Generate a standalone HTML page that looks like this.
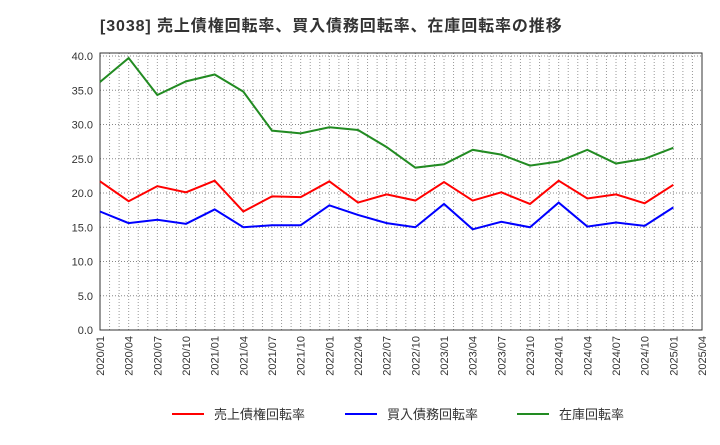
<!DOCTYPE html>
<html><head><meta charset="utf-8"><style>
body{margin:0;background:#fff;width:720px;height:440px;overflow:hidden}
svg text{font-family:"Liberation Sans","Noto Sans CJK JP",sans-serif}
</style></head><body>
<svg id="c" width="720" height="440">
<text x="100" y="31" font-size="16" letter-spacing="0.9" font-weight="bold" fill="#333">[3038]  売上債権回転率、買入債務回転率、在庫回転率の推移</text>
</svg>
<script>
const categories=["2020/01","2020/04","2020/07","2020/10","2021/01","2021/04","2021/07","2021/10","2022/01","2022/04","2022/07","2022/10","2023/01","2023/04","2023/07","2023/10","2024/01","2024/04","2024/07","2024/10","2025/01","2025/04"];
const yTicks=[0,5,10,15,20,25,30,35,40];
const receivables=[21.7,18.8,21.0,20.1,21.8,17.3,19.5,19.4,21.7,18.6,19.8,18.9,21.6,18.9,20.1,18.4,21.8,19.2,19.8,18.5,21.2];
const payables=[17.3,15.6,16.1,15.5,17.6,15.0,15.3,15.3,18.2,16.8,15.6,15.0,18.4,14.7,15.8,15.0,18.6,15.1,15.7,15.2,17.9];
const inventory=[36.2,39.7,34.3,36.3,37.3,34.8,29.1,28.7,29.6,29.2,26.7,23.7,24.2,26.3,25.6,24.0,24.6,26.3,24.3,25.0,26.6];
const seriesNames=["売上債権回転率","買入債務回転率","在庫回転率"];
const colors=["#ff0000","#0000ff","#228b22"];
const svg=document.getElementById('c');const NS="http://www.w3.org/2000/svg";
const L=100,R=702,T=53,B=330,Y0=330,Y40=56;
const x=i=>L+i*(R-L)/(categories.length-1);
const y=v=>Y0-v*(Y0-Y40)/40;
function mk(t,a,p){const e=document.createElementNS(NS,t);for(const k in a)e.setAttribute(k,a[k]);(p||svg).appendChild(e);return e;}
const g=mk('g',{});


for(let m=1;m<(categories.length-1)*3;m++){const xx=L+m*(R-L)/((categories.length-1)*3);const l=mk('line',{x1:xx,x2:xx,y1:T,y2:B,stroke:'#999','stroke-dasharray':'1,2','stroke-width':1},g);}
yTicks.forEach(v=>{const l=mk('line',{x1:L,x2:R,y1:y(v),y2:y(v),stroke:'#888','stroke-dasharray':'1,2'},g);
const t=mk('text',{x:L-7,y:y(v)+4,'font-size':11,fill:'#333','text-anchor':'end'});t.textContent=v.toFixed(1);});
const box=mk('rect',{x:L,y:T,width:R-L,height:B-T,fill:'none',stroke:'#333'});


categories.forEach((c,i)=>{const t=mk('text',{transform:`translate(${x(i)+4},${B+6}) rotate(-90)`,'font-size':11,fill:'#333','text-anchor':'end'});t.textContent=c;});
[receivables,payables,inventory].forEach((s,k)=>{const p=mk('polyline',{points:s.map((v,i)=>x(i)+','+y(v)).join(' '),fill:'none',stroke:colors[k],'stroke-width':2});});
const lx=[172,345,517];
seriesNames.forEach((n,k)=>{const gg=mk('g',{});
mk('line',{x1:lx[k],x2:lx[k]+32,y1:414,y2:414,stroke:colors[k],'stroke-width':2},gg);
const t=mk('text',{x:lx[k]+42,y:419,'font-size':13,fill:'#333'},gg);t.textContent=n;});
</script>
</body></html>
